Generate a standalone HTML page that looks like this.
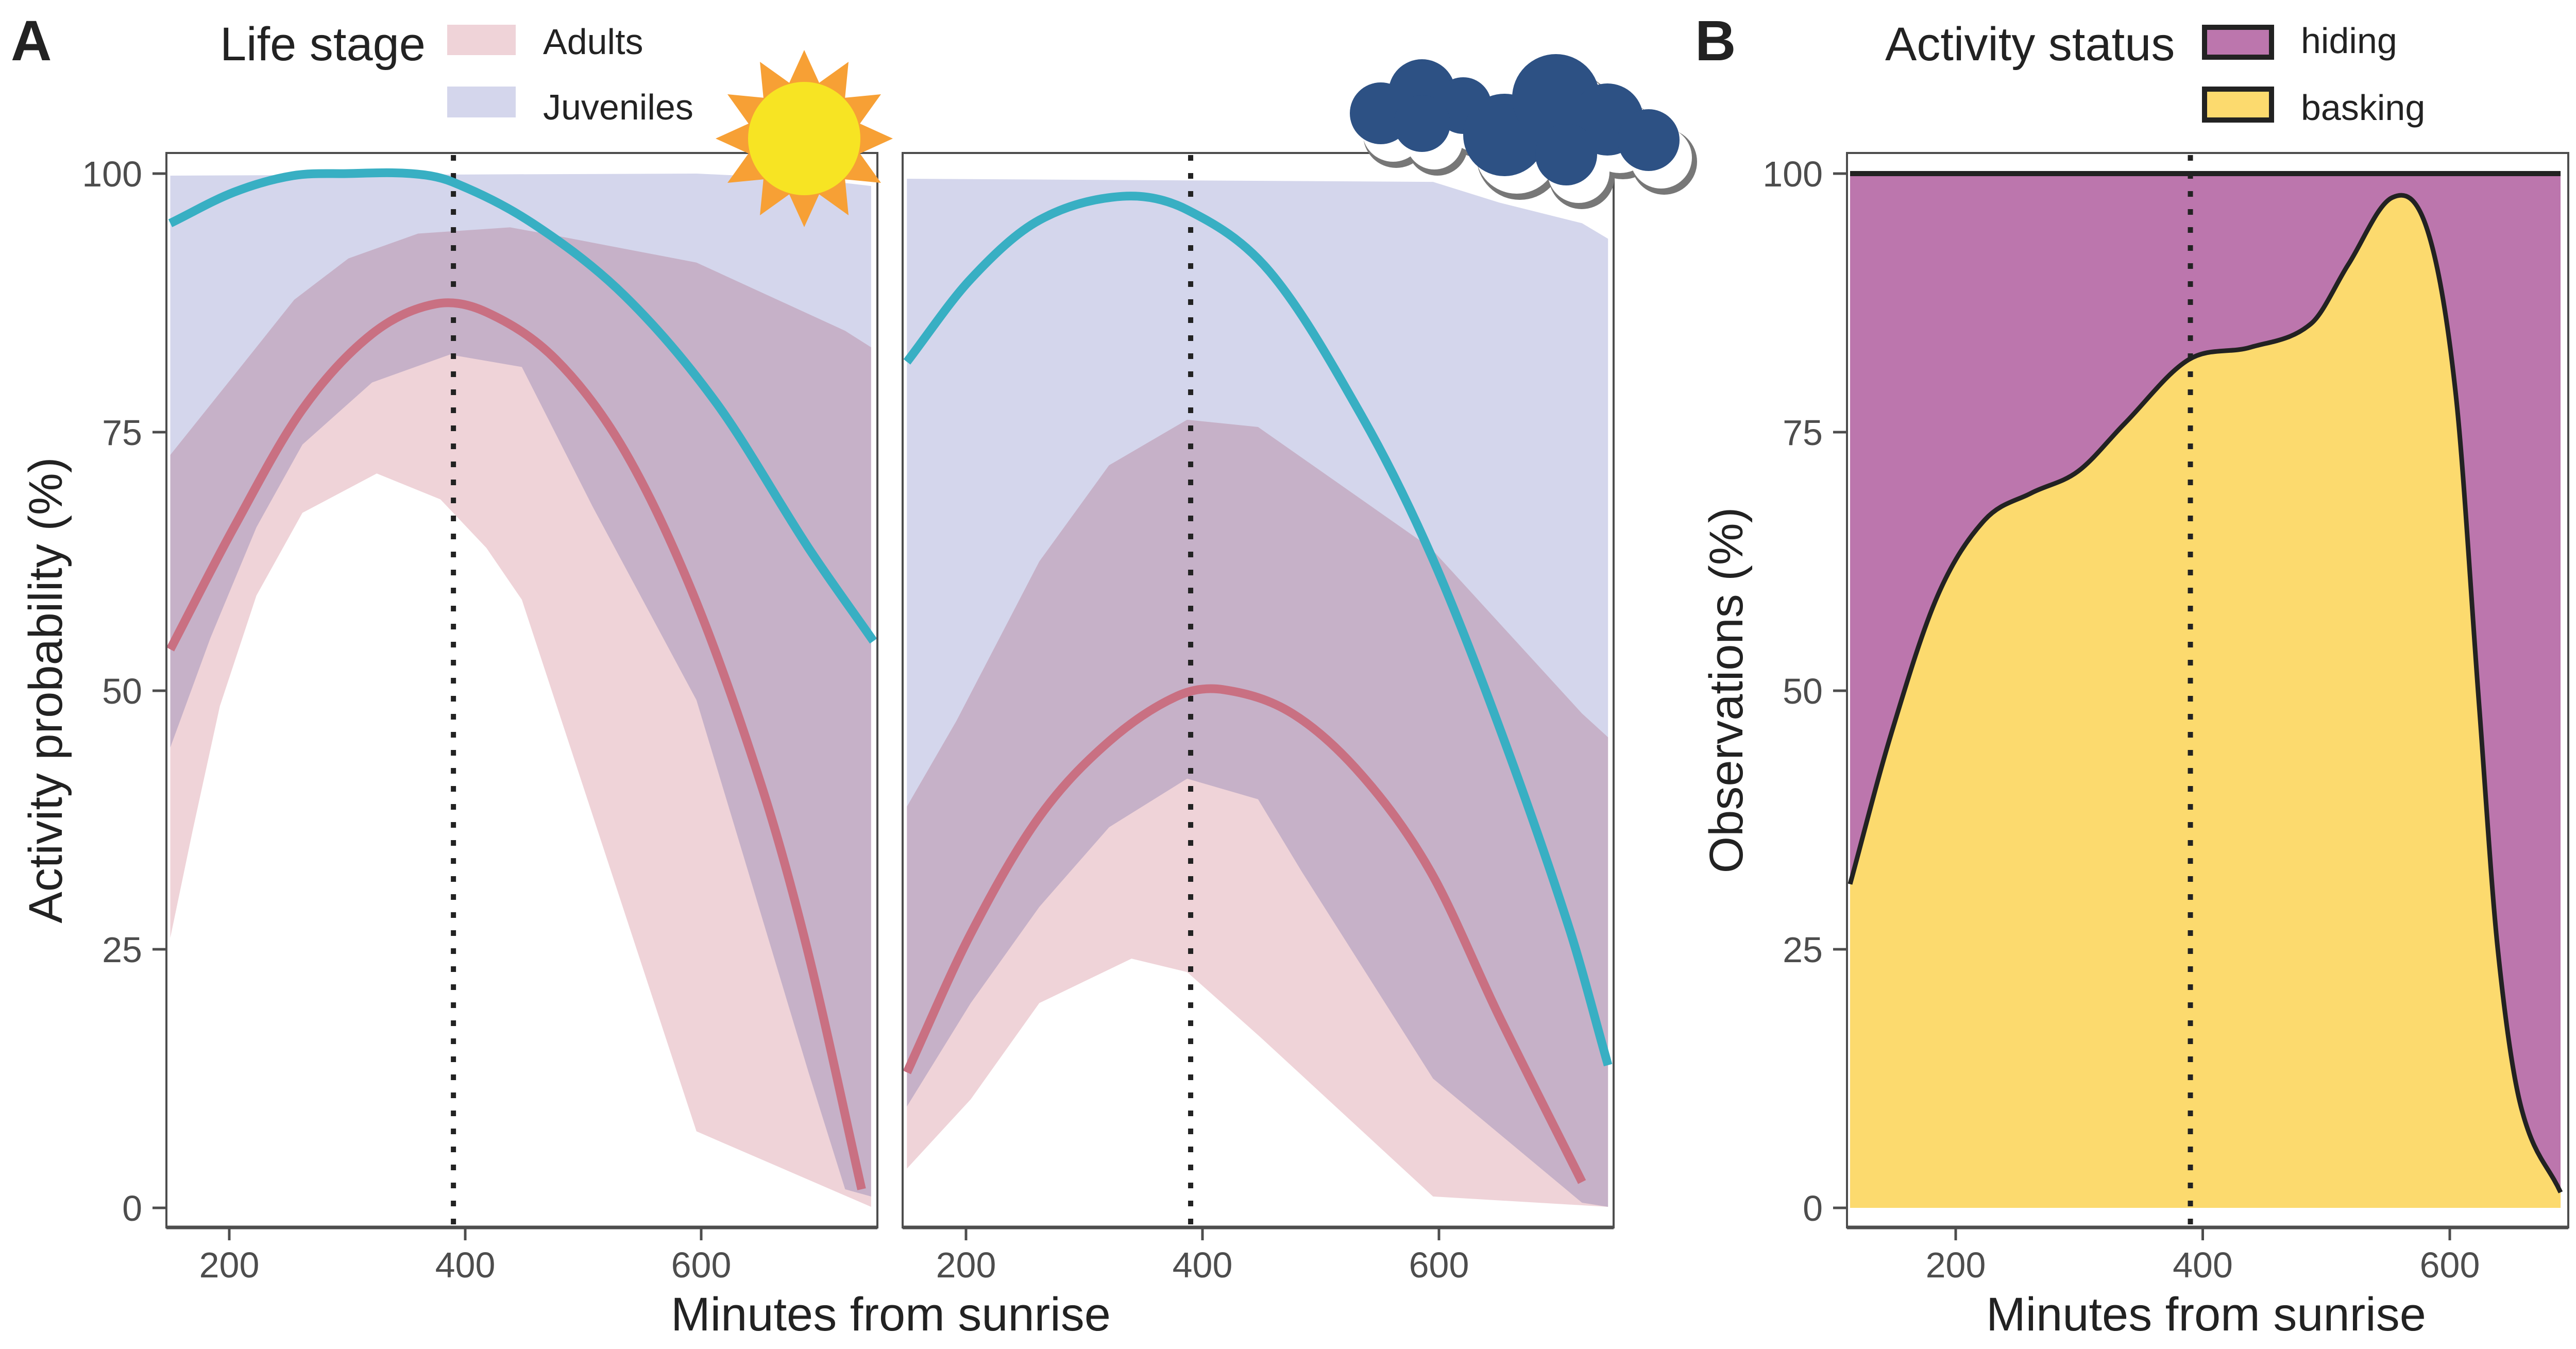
<!DOCTYPE html>
<html><head><meta charset="utf-8"><style>
html,body{margin:0;padding:0;background:#fff;}
svg{display:block;font-family:"Liberation Sans",sans-serif;}
</style></head><body>
<svg id="chart" width="5019" height="2619" viewBox="0 0 5019 2619" xmlns="http://www.w3.org/2000/svg">
<rect width="5019" height="2619" fill="#fff"/>
<g id="p1"></g>
<g id="p2"></g>
<g id="p3"></g>
<g id="deco"></g>
<g>
<text x="21" y="117" font-size="110" font-weight="bold" fill="#222">A</text>
<text x="427" y="117" font-size="92" fill="#222">Life stage</text>
<rect x="868" y="48" width="133" height="59" fill="#efd3d8"/>
<text x="1054" y="105" font-size="70" fill="#222">Adults</text>
<rect x="868" y="168" width="133" height="60" fill="#d4d6ec"/>
<text x="1054" y="232" font-size="70" fill="#222">Juveniles</text>
</g>
<g>
<text x="3290" y="117" font-size="110" font-weight="bold" fill="#222">B</text>
<text x="3659" y="117" font-size="92" fill="#222">Activity status</text>
<rect x="4279" y="53" width="130" height="58" fill="#bc76ad" stroke="#222" stroke-width="10"/>
<text x="4466" y="103" font-size="70" fill="#222">hiding</text>
<rect x="4279" y="173" width="130" height="60" fill="#fcda6e" stroke="#222" stroke-width="10"/>
<text x="4466" y="233" font-size="70" fill="#222">basking</text>
</g>
<text x="1729" y="2583" font-size="92" fill="#222" text-anchor="middle">Minutes from sunrise</text>
<text x="4282" y="2583" font-size="92" fill="#222" text-anchor="middle">Minutes from sunrise</text>
<text transform="translate(120,1340) rotate(-90)" font-size="92" fill="#222" text-anchor="middle">Activity probability (%)</text>
<text transform="translate(3382,1340) rotate(-90)" font-size="92" fill="#222" text-anchor="middle">Observations (%)</text>
</svg>
<script>
const NS="http://www.w3.org/2000/svg";
// ---- data ----
const xTicks=[200,400,600];
const yTicks=[0,25,50,75,100];
const sunriseRef=390;
const p1JuvLineM=[150,204,254,300,354,389,457,535,613,691,746];
const p1JuvLineV=[95.2,98.2,99.8,100,100,99.2,95.2,88.2,77.8,63.8,54.8];
const p1AdLineM=[150,204,262,321,375,418,477,535,594,652,691,736];
const p1AdLineV=[54,65.8,77.2,84.5,87.4,86.6,82.0,73.2,59.1,40.5,24.5,1.8];
const p1JuvUpM=[150,596,691,744];
const p1JuvUpV=[99.8,100,99.5,98.8];
const p1JuvLoM=[150,184,223,262,321,387,448,508,596,633,691,722,744];
const p1JuvLoV=[44.5,55.1,65.8,73.8,79.8,82.5,81.3,67.8,49.1,35.1,13.1,1.8,1.1];
const p1AdUpM=[150,204,255,301,360,438,477,596,722,744];
const p1AdUpV=[72.8,80.5,87.8,91.8,94.2,94.8,94,91.4,84.8,83.2];
const p1AdLoM=[150,169,192,223,262,325,379,418,448,596,744];
const p1AdLoV=[26.1,36.5,48.5,59.2,67.2,71,68.5,63.8,58.8,7.4,0.1];
const p2JuvLineM=[150,204,262,332,387,457,535,593,651,710,743];
const p2JuvLineV=[81.8,89.8,95.5,97.8,96.5,90.5,76.5,63.2,46.5,27.1,13.8];
const p2AdLineM=[150,204,262,321,379,418,476,535,593,651,721];
const p2AdLineV=[13.1,26.5,37.8,45.1,49.5,50.1,47.8,41.8,32.5,18.5,2.5];
const p2JuvUpM=[150,595,651,721,743];
const p2JuvUpV=[99.5,99.2,97.2,95.2,93.7];
const p2JuvLoM=[150,204,262,321,387,447,484,595,721,743];
const p2JuvLoV=[9.8,19.8,29.1,36.8,41.5,39.5,32.5,12.5,0.5,0.1];
const p2AdUpM=[150,192,262,321,387,447,593,721,743];
const p2AdUpV=[38.8,47.1,62.5,71.8,76.2,75.5,63.8,47.8,45.5];
const p2AdLoM=[150,204,262,340,387,449,595,743];
const p2AdLoV=[3.8,10.5,19.8,24.1,22.8,16.5,1.1,0.1];
const baskM=[114.5,147.7,185.4,223.4,261,298.9,336.5,388.5,438.6,487.8,517.8,553.7,582,605,623.8,638.8,657.6,689.7];
const baskV=[31.3,45.8,59.2,66.5,69.1,71.2,75.8,82,83.2,85.5,91.2,97.7,94.5,78.5,48.5,25.1,9.8,1.5];

// ---- axes ----
function yS(v){return 2345-v*20.08;}
function mkX(x200,pxPerMin){return m=>x200+(m-200)*pxPerMin;}
const panels=[
 {g:'p1',x0:323,x1:1703,xs:mkX(445,2.29)},
 {g:'p2',x0:1752,x1:3132,xs:mkX(1875,2.295)},
 {g:'p3',x0:3585,x1:4985,xs:mkX(3796,2.3975)}
];
const Y0=297,Y1=2383;
function el(tag,attrs,parent){const e=document.createElementNS(NS,tag);for(const k in attrs)e.setAttribute(k,attrs[k]);parent.appendChild(e);return e;}
function pts(xs,M,V){return M.map((m,i)=>[xs(m),yS(V[i])]);}
function smooth(p){let d='M'+p[0][0].toFixed(1)+','+p[0][1].toFixed(1);
 for(let i=0;i<p.length-1;i++){const a=p[i-1]||p[i],b=p[i],c=p[i+1],e=p[i+2]||c;
  const h=c[0]-b[0];
  const s1=(c[1]-a[1])/(c[0]-a[0]), s2=(e[1]-b[1])/(e[0]-b[0]);
  const c1=[b[0]+h/3,b[1]+s1*h/3],c2=[c[0]-h/3,c[1]-s2*h/3];
  d+='C'+c1[0].toFixed(1)+','+c1[1].toFixed(1)+' '+c2[0].toFixed(1)+','+c2[1].toFixed(1)+' '+c[0].toFixed(1)+','+c[1].toFixed(1);}
 return d;}
function linePath(p){return 'M'+p.map(q=>q[0].toFixed(1)+','+q[1].toFixed(1)).join('L');}
function band(xs,uM,uV,lM,lV){const u=pts(xs,uM,uV),l=pts(xs,lM,lV).reverse();return linePath(u.concat(l))+'Z';}

function frame(P,g){
 const br=el('rect',{x:P.x0,y:Y0,width:P.x1-P.x0,height:Y1-Y0,fill:'none',stroke:'#4d4d4d','stroke-width':4},g);
 
 
 const ax=el('line',{x1:P.x0,x2:P.x1,y1:Y1,y2:Y1,stroke:'#4d4d4d','stroke-width':7},g);
 
 
 xTicks.forEach(t=>{const x=P.xs(t);
  const tk=el('line',{x1:x,x2:x,y1:Y1,y2:2408,stroke:'#4d4d4d','stroke-width':5},g);
  
  
  const tx=el('text',{x:x,y:2480,'font-size':70,fill:'#4d4d4d','text-anchor':'middle'},g);tx.textContent=t;
  
  });
}
function yAxis(P,g){yTicks.forEach(t=>{const y=yS(t);
 const tk=el('line',{x1:P.x0-27,x2:P.x0,y1:y,y2:y,stroke:'#4d4d4d','stroke-width':5},g);
 
 
 const tx=el('text',{x:P.x0-47,y:y+25,'font-size':70,fill:'#4d4d4d','text-anchor':'end'},g);tx.textContent=t;
 
 });}
function vref(P,g){const x=P.xs(sunriseRef);
 const l=el('line',{x1:x,x2:x,y1:Y0+4,y2:Y1-4,stroke:'#222','stroke-width':10,'stroke-dasharray':'11 24'},g);
 
 }

function probPanel(P,d){const g=document.getElementById(P.g);
 const a=el('path',{d:band(P.xs,d.auM,d.auV,d.alM,d.alV),fill:'#efd3d8'},g);
 
 
 const j=el('path',{d:band(P.xs,d.juM,d.juV,d.jlM,d.jlV),fill:'#d4d6ec',style:'mix-blend-mode:multiply'},g);
 
 
 vref(P,g);
 const la=el('path',{d:smooth(pts(P.xs,d.aM,d.aV)),fill:'none',stroke:'#c97082','stroke-width':17},g);
 
 
 const lj=el('path',{d:smooth(pts(P.xs,d.jM,d.jV)),fill:'none',stroke:'#38afc3','stroke-width':17},g);
 
 
 frame(P,g);}
probPanel(panels[0],{aM:p1AdLineM,aV:p1AdLineV,jM:p1JuvLineM,jV:p1JuvLineV,juM:p1JuvUpM,juV:p1JuvUpV,jlM:p1JuvLoM,jlV:p1JuvLoV,auM:p1AdUpM,auV:p1AdUpV,alM:p1AdLoM,alV:p1AdLoV});
probPanel(panels[1],{aM:p2AdLineM,aV:p2AdLineV,jM:p2JuvLineM,jV:p2JuvLineV,juM:p2JuvUpM,juV:p2JuvUpV,jlM:p2JuvLoM,jlV:p2JuvLoV,auM:p2AdUpM,auV:p2AdUpV,alM:p2AdLoM,alV:p2AdLoV});
yAxis(panels[0],document.getElementById('p1'));

(function(){const P=panels[2],g=document.getElementById('p3');
 const xa=P.xs(baskM[0]),xb=P.xs(baskM[baskM.length-1]);
 const h=el('rect',{x:xa,y:yS(100),width:xb-xa,height:yS(0)-yS(100),fill:'#bc76ad'},g);
 
 
 const c=smooth(pts(P.xs,baskM,baskV));
 const b=el('path',{d:c+'L'+xb+','+yS(0)+'L'+xa+','+yS(0)+'Z',fill:'#fcda6e'},g);
 
 
 const o=el('path',{d:c,fill:'none',stroke:'#222','stroke-width':9},g);
 
 
 const t=el('line',{x1:xa,x2:xb,y1:yS(100),y2:yS(100),stroke:'#222','stroke-width':10},g);
 
 
 vref(P,g);frame(P,g);yAxis(P,g);})();

// ---- decorations ----
(function(){const g=document.getElementById('deco');
 const cx=1561,cy=269;let d='';
 for(let i=0;i<24;i++){const r=i%2?112:172,a=-Math.PI/2+i*Math.PI/12;d+=(i?'L':'M')+(cx+r*Math.cos(a)).toFixed(1)+','+(cy+r*Math.sin(a)).toFixed(1);}
 const rays=el('path',{d:d+'Z',fill:'#f7a035'},g);
 
 
 const sun=el('ellipse',{cx:cx,cy:cy,rx:109,ry:110,fill:'#f7e423'},g);
 
 
 const clouds=[
  [[2680,220,60],[2760,180,65],[2840,205,55],[2900,235,45],[2760,240,55]],
  [[2920,262,80],[3020,190,85],[3120,232,70],[3200,272,60],[3040,300,60]]];
 clouds.forEach((cl,k)=>{const cg=el('g',{},g);
  
  
  cl.forEach(c=>el('circle',{cx:c[0]+30,cy:c[1]+42,r:c[2]+4,fill:'#777'},cg));
  cl.forEach(c=>el('circle',{cx:c[0]+24,cy:c[1]+34,r:c[2],fill:'#fff'},cg));
  cl.forEach(c=>el('circle',{cx:c[0],cy:c[1],r:c[2],fill:'#2d5184'},cg));});
})();
</script>
</body></html>
